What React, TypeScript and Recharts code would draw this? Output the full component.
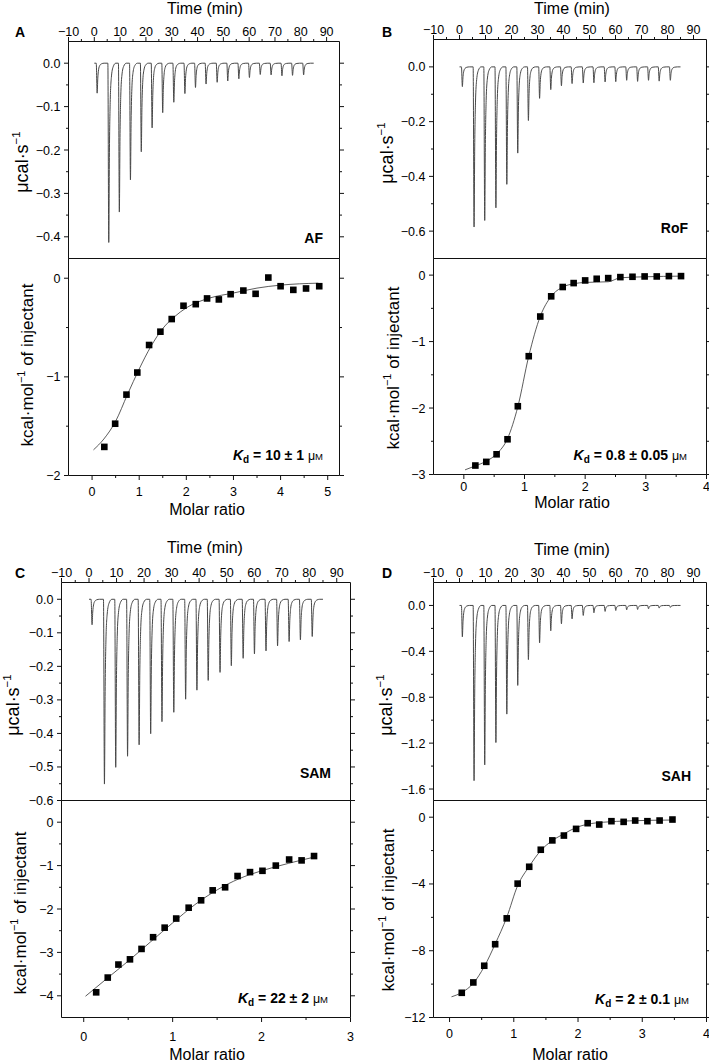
import React from 'react';
import { LineChart, ComposedChart, Line, Scatter, XAxis, YAxis } from 'recharts';

const FONT = '"Liberation Sans", Arial, Helvetica, sans-serif';

// ---------- data ----------
const TIME_MAJOR = [-10, 0, 10, 20, 30, 40, 50, 60, 70, 80, 90];
const TIME_MINOR = [-5, 5, 15, 25, 35, 45, 55, 65, 75, 85];
const INJECTION_TIMES = [0.8, 5.3, 9.4, 13.7, 17.9, 22.1, 26.2, 30.5, 34.8, 38.9, 43.0, 47.3, 51.4, 55.7, 59.8, 64.0, 68.2, 72.4, 76.5, 80.8];
const RUN_START = 0;
const RUN_END = 85;

const AF_PEAKS = [-0.069, -0.413, -0.343, -0.269, -0.204, -0.149, -0.114, -0.09, -0.07, -0.056, -0.048, -0.044, -0.041, -0.036, -0.033, -0.026, -0.027, -0.029, -0.028, -0.027];
const ROF_PEAKS = [-0.072, -0.585, -0.561, -0.515, -0.429, -0.315, -0.196, -0.115, -0.083, -0.069, -0.061, -0.059, -0.058, -0.055, -0.054, -0.049, -0.053, -0.049, -0.052, -0.049];
const SAM_PEAKS = [-0.076, -0.551, -0.501, -0.468, -0.434, -0.401, -0.365, -0.337, -0.298, -0.271, -0.242, -0.218, -0.198, -0.176, -0.163, -0.154, -0.139, -0.126, -0.121, -0.111];
const SAH_PEAKS = [-0.274, -1.527, -1.39, -1.195, -0.947, -0.697, -0.472, -0.326, -0.221, -0.16, -0.117, -0.087, -0.064, -0.052, -0.044, -0.038, -0.035, -0.029, -0.023, -0.017];

const AF_RATIO = [0.26, 0.49, 0.73, 0.96, 1.21, 1.45, 1.69, 1.94, 2.2, 2.44, 2.69, 2.94, 3.21, 3.47, 3.74, 4.0, 4.27, 4.54, 4.82];
const AF_HEAT = [-1.71, -1.475, -1.18, -0.956, -0.677, -0.542, -0.414, -0.279, -0.263, -0.205, -0.215, -0.162, -0.125, -0.158, 0.007, -0.081, -0.118, -0.104, -0.081];
const AF_FIT_RATIO = [0.03, 0.25, 0.5, 0.75, 1.0, 1.25, 1.5, 1.75, 2.0, 2.5, 3.0, 3.5, 4.0, 4.8];
const AF_FIT_HEAT = [-1.74, -1.63, -1.45, -1.18, -0.92, -0.69, -0.51, -0.39, -0.3, -0.2, -0.15, -0.1, -0.07, -0.05];

const ROF_RATIO = [0.19, 0.37, 0.54, 0.72, 0.89, 1.07, 1.26, 1.44, 1.63, 1.81, 2.0, 2.19, 2.38, 2.58, 2.78, 2.98, 3.18, 3.38, 3.58];
const ROF_HEAT = [-2.865, -2.81, -2.696, -2.47, -1.973, -1.22, -0.623, -0.319, -0.179, -0.12, -0.08, -0.055, -0.045, -0.03, -0.025, -0.02, -0.02, -0.015, -0.015];
const ROF_FIT_RATIO = [0.02, 0.19, 0.37, 0.54, 0.72, 0.89, 1.07, 1.26, 1.44, 1.63, 1.81, 2.0, 2.38, 2.58, 3.0, 3.58];
const ROF_FIT_HEAT = [-2.93, -2.87, -2.8, -2.69, -2.46, -1.98, -1.22, -0.62, -0.32, -0.18, -0.13, -0.11, -0.1, -0.04, -0.025, -0.015];

const SAM_RATIO = [0.14, 0.27, 0.39, 0.52, 0.65, 0.78, 0.91, 1.04, 1.18, 1.32, 1.45, 1.59, 1.73, 1.87, 2.01, 2.16, 2.31, 2.45, 2.59];
const SAM_HEAT = [-3.92, -3.58, -3.28, -3.16, -2.92, -2.65, -2.43, -2.22, -1.97, -1.8, -1.57, -1.5, -1.24, -1.15, -1.12, -1.0, -0.86, -0.88, -0.78];
const SAM_FIT_RATIO = [0.02, 0.25, 0.5, 0.75, 1.0, 1.25, 1.5, 1.75, 2.0, 2.3, 2.6];
const SAM_FIT_HEAT = [-4.01, -3.62, -3.2, -2.76, -2.32, -1.9, -1.56, -1.3, -1.12, -0.95, -0.8];

const SAH_RATIO = [0.19, 0.37, 0.54, 0.71, 0.89, 1.06, 1.24, 1.42, 1.6, 1.78, 1.97, 2.15, 2.33, 2.52, 2.71, 2.89, 3.08, 3.27, 3.47];
const SAH_HEAT = [-10.52, -9.9, -8.9, -7.61, -6.06, -3.98, -2.97, -1.95, -1.39, -1.1, -0.7, -0.36, -0.44, -0.24, -0.28, -0.2, -0.24, -0.2, -0.14];
const SAH_FIT_RATIO = [0.03, 0.19, 0.37, 0.54, 0.71, 0.89, 1.06, 1.24, 1.42, 1.6, 1.78, 1.97, 2.15, 2.4, 2.8, 3.47];
const SAH_FIT_HEAT = [-10.76, -10.5, -9.95, -8.95, -7.6, -6.0, -4.1, -2.95, -2.0, -1.4, -1.0, -0.62, -0.42, -0.3, -0.22, -0.17];

// spike shape (relative time offset, fraction of peak depth)
const SPIKE_DT = [-0.05, 0.3, 0.55, 0.85, 1.3, 2.0, 3.0];
const SPIKE_FRAC = [0, 1, 0.5, 0.22, 0.08, 0.02, 0];

function thermogram(times: number[], peaks: number[]) {
  const pts: { t: number; v: number }[] = [{ t: RUN_START, v: 0 }];
  times.forEach((t0, i) => {
    SPIKE_DT.forEach((dt, k) => pts.push({ t: t0 + dt, v: peaks[i] * SPIKE_FRAC[k] }));
  });
  pts.push({ t: RUN_END, v: 0 });
  return pts;
}
const zipXY = (xs: number[], ys: number[]) => xs.map((x, i) => ({ x, y: ys[i] }));

// ---------- helpers ----------
const minus = (s: string) => s.replace('-', '\u2212');
const fmt0 = (v: number) => minus(String(Math.round(v)));
const fmt1 = (v: number) => minus(v.toFixed(1));

type Side = 'top' | 'bottom' | 'left' | 'right';
const TICK_FS = 12.5;
const INK = '#111';
const makeTick = (side: Side, majors: number[], labels: boolean, fmt: (v: number) => string, gap = 2) => (props: any) => {
  const { x, y, payload } = props;
  const v = payload.value;
  const major = majors.some((m) => Math.abs(m - v) < 1e-9);
  const len = major ? 4.5 : 2.5;
  let line: any = null;
  let text: any = null;
  const tp = { fontSize: TICK_FS, fontFamily: FONT, fill: '#000' };
  if (side === 'top') {
    line = <line x1={x} y1={y} x2={x} y2={y - len} stroke={INK} strokeWidth={1} />;
    if (labels && major) text = <text x={x} y={y - len - gap} textAnchor="middle" {...tp}>{fmt(v)}</text>;
  } else if (side === 'bottom') {
    line = <line x1={x} y1={y} x2={x} y2={y + len} stroke={INK} strokeWidth={1} />;
    if (labels && major) text = <text x={x} y={y + len + gap + TICK_FS * 0.72} textAnchor="middle" {...tp}>{fmt(v)}</text>;
  } else if (side === 'left') {
    line = <line x1={x} y1={y} x2={x - len} y2={y} stroke={INK} strokeWidth={1} />;
    if (labels && major) text = <text x={x - len - gap} y={y + TICK_FS * 0.36} textAnchor="end" {...tp}>{fmt(v)}</text>;
  } else {
    line = <line x1={x} y1={y} x2={x + len} y2={y} stroke={INK} strokeWidth={1} />;
  }
  return <g>{line}{text}</g>;
};

const AXIS = { stroke: INK, strokeWidth: 1 };
const WL = 52, HT = 30, HB = 34;
const PAGE_W = 709;

type Box = { l: number; r: number; t: number; b: number };

// frame geometry: integer div position, fractional part absorbed in chart margin,
// chart never wider than the page
function frame(box: Box) {
  const fl = box.l - Math.floor(box.l);
  const ft = box.t - Math.floor(box.t);
  const pw = box.r - box.l, ph = box.b - box.t;
  const WR = Math.min(12, PAGE_W - box.r);
  const left = Math.floor(box.l) - WL;
  const top = Math.floor(box.t) - HT;
  const W = WL + fl + pw + WR;
  const H = HT + ft + ph + HB;
  return { left, top, W, H, WR, margin: { top: ft, left: fl, right: 0, bottom: 0 } };
}

function Thermogram({ box, yDomain, yMajor, yMinor, data }: { box: Box; yDomain: number[]; yMajor: number[]; yMinor: number[]; data: any[] }) {
  const f = frame(box);
  const yt = [...yMajor, ...yMinor];
  return (
    <div style={{ position: 'absolute', left: f.left, top: f.top, width: f.W, height: f.H }}>
      <LineChart width={f.W} height={f.H} data={data} margin={f.margin}>
        <XAxis xAxisId="top" orientation="top" type="number" dataKey="t" domain={[-10, 95]} allowDataOverflow ticks={[...TIME_MAJOR, ...TIME_MINOR]} interval={0} height={HT} tickSize={0} tickMargin={0} tickLine={false} axisLine={AXIS} tick={makeTick('top', TIME_MAJOR, true, fmt0, 1.5)} />
        <XAxis xAxisId="bot" orientation="bottom" type="number" domain={[-10, 95]} allowDataOverflow height={HB} tick={false} tickLine={false} axisLine={AXIS} />
        <YAxis yAxisId="left" orientation="left" type="number" domain={yDomain} allowDataOverflow ticks={yt} interval={0} width={WL} tickSize={0} tickMargin={0} tickLine={false} axisLine={AXIS} tick={makeTick('left', yMajor, true, fmt1, 3.5)} />
        <YAxis yAxisId="right" orientation="right" type="number" domain={yDomain} allowDataOverflow ticks={yt} interval={0} width={f.WR} tickSize={0} tickMargin={0} tickLine={false} axisLine={AXIS} tick={makeTick('right', yMajor, false, fmt1)} />
        <Line xAxisId="top" yAxisId="left" dataKey="v" type="monotone" dot={false} stroke="#474747" strokeWidth={1} isAnimationActive={false} />
      </LineChart>
    </div>
  );
}

const Square = (p: any) => <rect x={p.cx - 3.3} y={p.cy - 3.3} width={6.6} height={6.6} fill="#000" />;

function Isotherm({ box, xDomain, xMajor, xMinor, yDomain, yMajor, yMinor, pts, fit, xGap }: { box: Box; xDomain: number[]; xMajor: number[]; xMinor: number[]; yDomain: number[]; yMajor: number[]; yMinor: number[]; pts: any[]; fit: any[]; xGap: number }) {
  const f = frame(box);
  const xt = [...xMajor, ...xMinor];
  const yt = [...yMajor, ...yMinor];
  return (
    <div style={{ position: 'absolute', left: f.left, top: f.top, width: f.W, height: f.H }}>
      <ComposedChart width={f.W} height={f.H} margin={f.margin}>
        <XAxis xAxisId="top" orientation="top" type="number" domain={xDomain} allowDataOverflow ticks={xt} interval={0} height={HT} tickSize={0} tickMargin={0} tickLine={false} axisLine={AXIS} tick={makeTick('top', xMajor, false, fmt0)} />
        <XAxis xAxisId="bot" orientation="bottom" type="number" dataKey="x" domain={xDomain} allowDataOverflow ticks={xt} interval={0} height={HB} tickSize={0} tickMargin={0} tickLine={false} axisLine={AXIS} tick={makeTick('bottom', xMajor, true, fmt0, xGap)} />
        <YAxis yAxisId="left" orientation="left" type="number" dataKey="y" domain={yDomain} allowDataOverflow ticks={yt} interval={0} width={WL} tickSize={0} tickMargin={0} tickLine={false} axisLine={AXIS} tick={makeTick('left', yMajor, true, fmt0, 3.5)} />
        <YAxis yAxisId="right" orientation="right" type="number" domain={yDomain} allowDataOverflow ticks={yt} interval={0} width={f.WR} tickSize={0} tickMargin={0} tickLine={false} axisLine={AXIS} tick={makeTick('right', yMajor, false, fmt0)} />
        <Line xAxisId="bot" yAxisId="left" data={fit} dataKey="y" type="monotone" dot={false} stroke="#333" strokeWidth={0.8} isAnimationActive={false} />
        <Scatter xAxisId="bot" yAxisId="left" data={pts} dataKey="y" shape={Square} isAnimationActive={false} />
      </ComposedChart>
    </div>
  );
}

// ---------- overlay text ----------
const T = { fontFamily: FONT, fill: '#000' };

function VTitle({ x, y, kind }: { x: number; y: number; kind: 'top' | 'bot' }) {
  return (
    <text x={x} y={y} transform={`rotate(-90 ${x} ${y})`} textAnchor="middle" dominantBaseline="central" fontSize={kind === 'top' ? 18 : 17} {...T}>
      {kind === 'top' ? (
        <>
          <tspan>μcal·s</tspan>
          <tspan fontSize={11.5} dy={-6}>−1</tspan>
        </>
      ) : (
        <>
          <tspan>kcal·mol</tspan>
          <tspan fontSize={11} dy={-6}>−1</tspan>
          <tspan dy={6}> of injectant</tspan>
        </>
      )}
    </text>
  );
}

function Kd({ x, y, value }: { x: number; y: number; value: string }) {
  return (
    <text x={x} y={y} textAnchor="end" fontSize={14} fontWeight="bold" {...T}>
      <tspan fontStyle="italic">K</tspan>
      <tspan fontSize={10} dy={3}>d</tspan>
      <tspan dy={-3}>{` = ${value} `}</tspan>
      <tspan fontWeight="normal" fontSize={12.5}>μ</tspan>
      <tspan fontWeight="normal" fontSize={9.5}>M</tspan>
    </text>
  );
}

function Overlay() {
  const letter = { fontSize: 14, fontWeight: 'bold' as const, ...T };
  const title = { fontSize: 16, textAnchor: 'middle' as const, ...T };
  const sub = { fontSize: 14, fontWeight: 'bold' as const, textAnchor: 'end' as const, ...T };
  return (
    <svg width={709} height={1063} style={{ position: 'absolute', left: 0, top: 0, pointerEvents: 'none' }}>
      <text x={15} y={37} {...letter}>A</text>
      <text x={382} y={37} {...letter}>B</text>
      <text x={15} y={578} {...letter}>C</text>
      <text x={382} y={578} {...letter}>D</text>

      <text x={205} y={13.5} {...title}>Time (min)</text>
      <text x={572} y={13.5} {...title}>Time (min)</text>
      <text x={205} y={553} {...title}>Time (min)</text>
      <text x={572} y={555} {...title}>Time (min)</text>

      <text x={207} y={515} {...title}>Molar ratio</text>
      <text x={572} y={508} {...title}>Molar ratio</text>
      <text x={207} y={1060} {...title}>Molar ratio</text>
      <text x={570} y={1060} {...title}>Molar ratio</text>

      <VTitle x={22} y={162} kind="top" />
      <VTitle x={387} y={153} kind="top" />
      <VTitle x={13} y={705} kind="top" />
      <VTitle x={386} y={705} kind="top" />

      <VTitle x={27} y={365} kind="bot" />
      <VTitle x={393} y={368} kind="bot" />
      <VTitle x={20} y={913} kind="bot" />
      <VTitle x={388} y={910} kind="bot" />

      <text x={323} y={243} {...sub}>AF</text>
      <text x={688} y={233} {...sub}>RoF</text>
      <text x={331} y={778} {...sub}>SAM</text>
      <text x={691} y={781} {...sub}>SAH</text>

      <Kd x={323} y={460} value="10 ± 1" />
      <Kd x={687} y={460} value="0.8 ± 0.05" />
      <Kd x={328} y={1003} value="22 ± 2" />
      <Kd x={689} y={1004} value="2 ± 0.1" />
    </svg>
  );
}

export default function App() {
  return (
    <div style={{ position: 'absolute', left: 0, top: 0, width: 709, height: 1063, background: '#fff', overflow: 'hidden', fontFamily: FONT }}>
      <Thermogram box={{ l: 68.5, r: 339.5, t: 41.5, b: 258.5 }} yDomain={[-0.45, 0.05]} yMajor={[0, -0.1, -0.2, -0.3, -0.4]} yMinor={[-0.05, -0.15, -0.25, -0.35]} data={thermogram(INJECTION_TIMES, AF_PEAKS)} />
      <Isotherm box={{ l: 68.5, r: 339.5, t: 258.5, b: 475.5 }} xDomain={[-0.5, 5.25]} xMajor={[0, 1, 2, 3, 4, 5]} xMinor={[0.5, 1.5, 2.5, 3.5, 4.5]} yDomain={[-2, 0.2]} yMajor={[0, -1, -2]} yMinor={[-0.5, -1.5]} pts={zipXY(AF_RATIO, AF_HEAT)} fit={zipXY(AF_FIT_RATIO, AF_FIT_HEAT)} xGap={6.5} />

      <Thermogram box={{ l: 433.5, r: 706.5, t: 39.5, b: 258.5 }} yDomain={[-0.7, 0.1]} yMajor={[0, -0.2, -0.4, -0.6]} yMinor={[-0.1, -0.3, -0.5]} data={thermogram(INJECTION_TIMES, ROF_PEAKS)} />
      <Isotherm box={{ l: 433.5, r: 706.5, t: 258.5, b: 474.5 }} xDomain={[-0.5, 4]} xMajor={[0, 1, 2, 3, 4]} xMinor={[0.5, 1.5, 2.5, 3.5]} yDomain={[-3, 0.25]} yMajor={[0, -1, -2, -3]} yMinor={[-0.5, -1.5, -2.5]} pts={zipXY(ROF_RATIO, ROF_HEAT)} fit={zipXY(ROF_FIT_RATIO, ROF_FIT_HEAT)} xGap={3} />

      <Thermogram box={{ l: 61.5, r: 350.5, t: 582.5, b: 800.5 }} yDomain={[-0.6, 0.05]} yMajor={[0, -0.1, -0.2, -0.3, -0.4, -0.5, -0.6]} yMinor={[-0.05, -0.15, -0.25, -0.35, -0.45, -0.55]} data={thermogram(INJECTION_TIMES, SAM_PEAKS)} />
      <Isotherm box={{ l: 61.5, r: 350.5, t: 800.5, b: 1017.5 }} xDomain={[-0.25, 3]} xMajor={[0, 1, 2, 3]} xMinor={[0.5, 1.5, 2.5]} yDomain={[-4.5, 0.5]} yMajor={[0, -1, -2, -3, -4]} yMinor={[-0.5, -1.5, -2.5, -3.5]} pts={zipXY(SAM_RATIO, SAM_HEAT)} fit={zipXY(SAM_FIT_RATIO, SAM_FIT_HEAT)} xGap={10} />

      <Thermogram box={{ l: 433.5, r: 706.5, t: 582.5, b: 800.5 }} yDomain={[-1.7, 0.2]} yMajor={[0, -0.4, -0.8, -1.2, -1.6]} yMinor={[-0.2, -0.6, -1.0, -1.4]} data={thermogram(INJECTION_TIMES, SAH_PEAKS)} />
      <Isotherm box={{ l: 433.5, r: 706.5, t: 800.5, b: 1017.5 }} xDomain={[-0.25, 4]} xMajor={[0, 1, 2, 3, 4]} xMinor={[0.5, 1.5, 2.5, 3.5]} yDomain={[-12, 1]} yMajor={[0, -4, -8, -12]} yMinor={[-2, -6, -10]} pts={zipXY(SAH_RATIO, SAH_HEAT)} fit={zipXY(SAH_FIT_RATIO, SAH_FIT_HEAT)} xGap={7} />

      <Overlay />
    </div>
  );
}
